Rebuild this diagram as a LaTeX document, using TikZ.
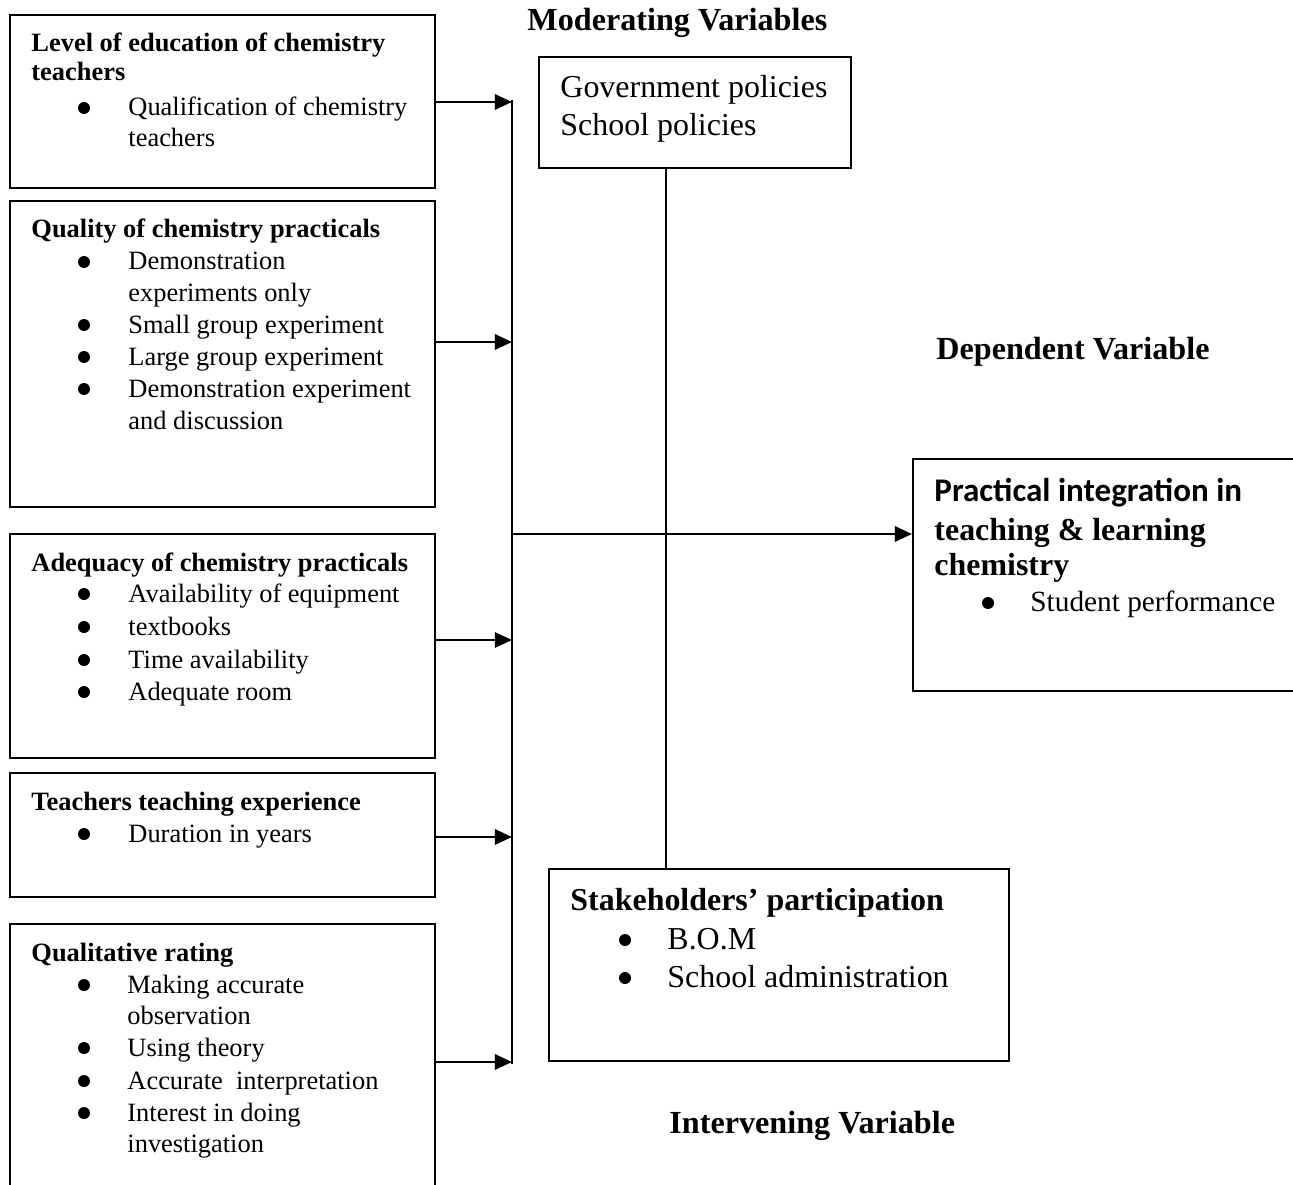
\documentclass[tikz,border=0pt]{standalone}
\usepackage{fontspec}
\setmainfont{Liberation Serif}
\newfontfamily\calib{Carlito}
\usetikzlibrary{arrows.meta,fit}
\begin{document}
\begin{tikzpicture}[x=0.454pt,y=-0.454pt,
  frame/.style={draw,line width=0.9pt,inner sep=0pt},
  conn/.style={line width=0.9pt},
  arr/.style={line width=0.9pt,-{Triangle[length=7.8pt,width=7pt]}},
  t12/.style={anchor=base west,inner sep=0pt,font=\fontsize{12}{14}\selectfont},
  t13/.style={anchor=base west,inner sep=0pt,font=\fontsize{13.3}{15}\selectfont},
  t12b/.style={anchor=base west,inner sep=0pt,font=\fontsize{12}{14}\selectfont\bfseries},
  t14/.style={anchor=base west,inner sep=0pt,font=\fontsize{14.5}{16}\selectfont},
  t14b/.style={anchor=base west,inner sep=0pt,font=\fontsize{14.5}{16}\selectfont\bfseries},
  ttl/.style={anchor=base west,inner sep=0pt,font=\fontsize{14.6}{16}\selectfont\bfseries},
  t14c/.style={anchor=base west,inner sep=0pt,font=\fontsize{15}{17}\selectfont\calib\bfseries}]
\useasboundingbox (0,0) rectangle (1293,1184);

% ---------- boxes ----------
\node[frame,fit={(10,15)(435,188)}] (b1) {};
\node[frame,fit={(10,201)(435,507)}] (b2) {};
\node[frame,fit={(10,534)(435,758)}] (b3) {};
\node[frame,fit={(10,773)(435,897)}] (b4) {};
\node[frame,fit={(10,924)(435,1200)}] (b5) {};
\node[frame,fit={(539,57)(851,168)}] (mod) {};
\node[frame,fit={(549,869)(1009,1061)}] (stk) {};
\node[frame,fit={(913,459)(1300,691)}] (dep) {};

% ---------- connectors ----------
\coordinate (bustop) at (512,100);
\coordinate (busbot) at (512,1064);
\draw[conn] (bustop) -- (busbot);
\coordinate (a1) at (512,102);
\coordinate (a2) at (512,342);
\coordinate (a3) at (512,640);
\coordinate (a4) at (512,837);
\coordinate (a5) at (512,1062);
\draw[arr] (b1.east |- a1) -- (a1);
\draw[arr] (b2.east |- a2) -- (a2);
\draw[arr] (b3.east |- a3) -- (a3);
\draw[arr] (b4.east |- a4) -- (a4);
\draw[arr] (b5.east |- a5) -- (a5);
\coordinate (hm) at (512,534);
\draw[arr] (hm) -- (dep.west |- hm);
\coordinate (mx) at (666,0);
\draw[conn] (mod.south -| mx) -- (stk.north -| mx);

% ---------- titles ----------
\node[ttl] (tmod) at (527,31) {Moderating Variables};
\node[ttl] (tdep) at (936,359) {Dependent Variable};
\node[ttl] (tint) at (669,1133) {Intervening Variable};

% ---------- box 1 ----------
\node[t12b] (l11) at (31,52) {Level of education of chemistry};
\node[t12b] (l12) at (31,81) {teachers};
\node[t12] (l13) at (128,116) {Qualification of chemistry};
\node[t12] (l14) at (128,147) {teachers};
\fill (84,108) circle (6);

% ---------- box 2 ----------
\node[t12b] (l21) at (31,238) {Quality of chemistry practicals};
\node[t12] (l22) at (128,270) {Demonstration};
\node[t12] (l23) at (128,301) {experiments only};
\node[t12] (l24) at (128,333) {Small group experiment};
\node[t12] (l25) at (128,365) {Large group experiment};
\node[t12] (l26) at (128,397) {Demonstration experiment};
\node[t12] (l27) at (128,429) {and discussion};
\fill (84,262) circle (6);
\fill (84,325) circle (6);
\fill (84,357) circle (6);
\fill (84,389) circle (6);

% ---------- box 3 ----------
\node[t12b] (l31) at (31,571) {Adequacy of chemistry practicals};
\node[t12] (l32) at (128,602) {Availability of equipment};
\node[t12] (l33) at (128,635) {textbooks};
\node[t12] (l34) at (128,668) {Time availability};
\node[t12] (l35) at (128,700) {Adequate room};
\fill (84,594) circle (6);
\fill (84,627) circle (6);
\fill (84,660) circle (6);
\fill (84,692) circle (6);

% ---------- box 4 ----------
\node[t12b] (l41) at (31,810) {Teachers teaching experience};
\node[t12] (l42) at (128,842) {Duration in years};
\fill (84,834) circle (6);

% ---------- box 5 ----------
\node[t12b] (l51) at (31,961) {Qualitative rating};
\node[t12] (l52) at (127,993) {Making accurate};
\node[t12] (l53) at (127,1024) {observation};
\node[t12] (l54) at (127,1056) {Using theory};
\node[t12] (l55) at (127,1089) {Accurate\ \ interpretation};
\node[t12] (l56) at (127,1121) {Interest in doing};
\node[t12] (l57) at (127,1152) {investigation};
\fill (84,985) circle (6);
\fill (84,1048) circle (6);
\fill (84,1081) circle (6);
\fill (84,1113) circle (6);

% ---------- moderating ----------
\node[t14] (m1) at (560,98) {Government policies};
\node[t14] (m2) at (560,136) {School policies};

% ---------- dependent ----------
\node[t14c] (d1) at (934,501) {Practical integration in};
\node[t14b] (d2) at (934,540) {teaching \& learning};
\node[t14b] (d3) at (934,575) {chemistry};
\node[t13] (d4) at (1030,611) {Student performance};
\fill (988,603) circle (6);

% ---------- stakeholders ----------
\node[t14b] (s1) at (570,910) {Stakeholders’ participation};
\node[t14] (s2) at (667,949) {B.O.M};
\node[t14] (s3) at (667,987) {School administration};
\fill (625,940) circle (6);
\fill (625,978) circle (6);
\end{tikzpicture}
\end{document}
